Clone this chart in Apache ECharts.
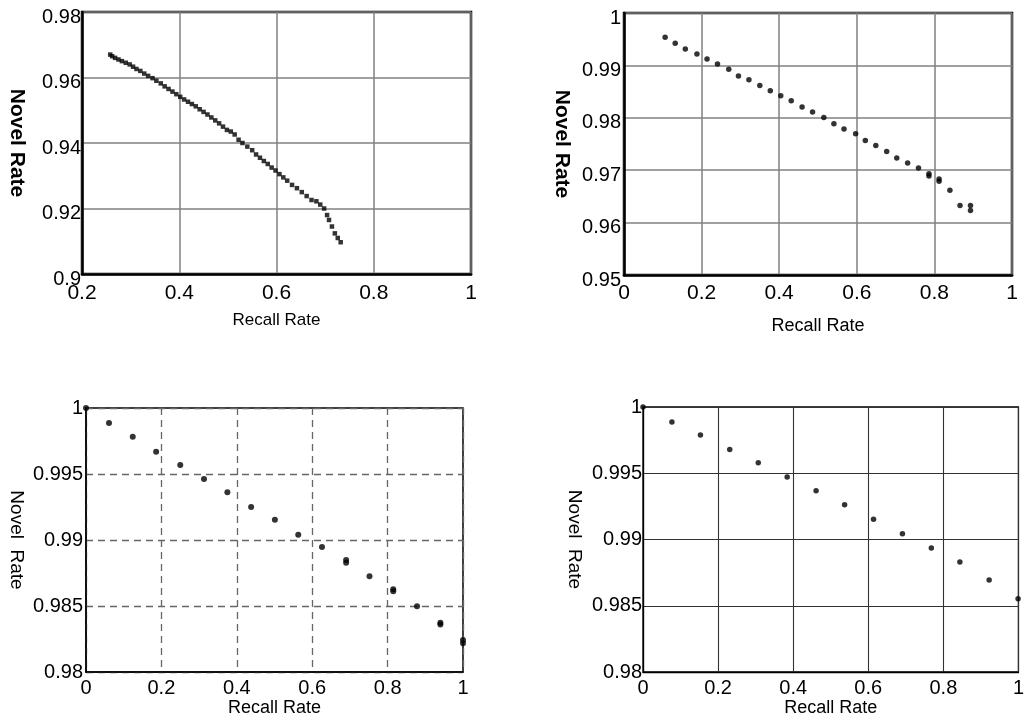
<!DOCTYPE html>
<html>
<head>
<meta charset="utf-8">
<script src="https://cdn.jsdelivr.net/npm/echarts@6/dist/echarts.min.js"></script>
<style>
html,body{margin:0;padding:0;background:#fff;}
#chart{width:1027px;height:724px;}
</style>
</head>
<body>
<div id="chart"></div>
<script>
// Panel 1 (top-left): recall vs novel rate
const p1Recall = [0.258,0.262,0.268,0.275,0.282,0.290,0.298,0.305,0.312,0.320,0.328,0.336,0.345,0.353,0.362,0.370,0.378,0.386,0.394,0.402,0.410,0.418,0.426,0.434,0.442,0.450,0.458,0.466,0.474,0.482,0.490,0.498,0.506,0.514,0.522,0.530,0.540,0.550,0.558,0.566,0.574,0.582,0.590,0.598,0.606,0.614,0.622,0.632,0.642,0.652,0.662,0.672,0.682,0.690,0.698,0.704,0.708,0.714,0.720,0.726,0.732];
const p1Novel  = [0.9670,0.9665,0.9660,0.9655,0.9650,0.9645,0.9640,0.9633,0.9626,0.9620,0.9612,0.9605,0.9598,0.9590,0.9582,0.9573,0.9565,0.9557,0.9549,0.9541,0.9533,0.9526,0.9519,0.9512,0.9503,0.9495,0.9487,0.9478,0.9469,0.9460,0.9450,0.9440,0.9435,0.9426,0.9410,0.9400,0.9389,0.9378,0.9365,0.9355,0.9345,0.9336,0.9325,0.9316,0.9305,0.9295,0.9285,0.9272,0.9262,0.9250,0.9238,0.9226,0.9222,0.9212,0.9200,0.9180,0.9165,0.9145,0.9124,0.9110,0.9097];

// Panel 2 (top-right)
const p2Recall = [0.106,0.132,0.158,0.188,0.214,0.241,0.270,0.295,0.322,0.350,0.377,0.404,0.431,0.459,0.486,0.515,0.541,0.567,0.597,0.622,0.649,0.677,0.703,0.731,0.759,0.786,0.786,0.812,0.812,0.840,0.866,0.893,0.893];
const p2Novel  = [0.99537,0.99423,0.99314,0.99219,0.99124,0.99029,0.98927,0.98800,0.98724,0.98615,0.98514,0.98420,0.98324,0.98204,0.98109,0.98006,0.97886,0.97785,0.97695,0.97568,0.97472,0.97358,0.97232,0.97137,0.97042,0.96930,0.96890,0.96830,0.96790,0.96615,0.96324,0.96324,0.96229];

// Panel 3 (bottom-left)
const p3Recall = [0.0,0.061,0.124,0.186,0.250,0.313,0.375,0.438,0.501,0.563,0.626,0.690,0.690,0.752,0.815,0.815,0.878,0.940,0.940,1.0,1.0];
const p3Novel  = [1.0,0.99886,0.99783,0.99669,0.99568,0.99462,0.99361,0.99250,0.99154,0.99040,0.98947,0.98848,0.98828,0.98725,0.98626,0.98611,0.98498,0.98374,0.98359,0.98242,0.98217];

// Panel 4 (bottom-right)
const p4Recall = [0.0,0.077,0.153,0.231,0.307,0.384,0.461,0.537,0.614,0.691,0.768,0.844,0.922,0.999];
const p4Novel  = [1.0,0.99887,0.99789,0.99680,0.99580,0.99472,0.99368,0.99263,0.99152,0.99044,0.98936,0.98830,0.98694,0.98553];

const xTitle = 'Recall Rate';
const yTitleTop = 'Novel Rate';
const yTitleBottom = 'Novel  Rate';

const FONT = '"Liberation Sans", Arial, sans-serif';
const fmt = v => String(+(+v).toFixed(4));
const zip = (a, b) => a.map((x, i) => [x, b[i]]);

const grids = [
  {left: 82,  top: 12,  width: 389, height: 262},
  {left: 624, top: 13,  width: 388, height: 262},
  {left: 86,  top: 408, width: 377, height: 264},
  {left: 643, top: 407, width: 378, height: 265}
];

const gridStyles = [
  {borderColor: '#000', borderWidth: 2.5},
  {borderColor: '#000', borderWidth: 2.5},
  {borderColor: '#000', borderWidth: 1.5},
  {borderColor: '#000', borderWidth: 1.3}
];

const splitStyles = [
  {color: '#808080', width: 1.5, type: 'solid'},
  {color: '#808080', width: 1.5, type: 'solid'},
  {color: '#666', width: 1.3, type: [7, 5]},
  {color: '#333', width: 1.1, type: 'solid'}
];

const xCfg = [
  {min: 0.2, max: 1, interval: 0.2, labelSize: 21, labelMargin: 9,  nameSize: 17, nameGap: 38},
  {min: 0,   max: 1, interval: 0.2, labelSize: 21, labelMargin: 8,  nameSize: 18, nameGap: 42},
  {min: 0,   max: 1, interval: 0.2, labelSize: 20, labelMargin: 6,  nameSize: 18, nameGap: 27},
  {min: 0,   max: 1, interval: 0.2, labelSize: 20, labelMargin: 6,  nameSize: 18, nameGap: 27}
];
const yCfg = [
  {min: 0.9,  max: 0.98, interval: 0.02,  labelSize: 20, labelMargin: 1, shift: true,  name: yTitleTop,    nameSize: 21, nameGap: 55, bold: 'bold'},
  {min: 0.95, max: 1,    interval: 0.01,  labelSize: 20, labelMargin: 3, shift: true,  name: yTitleTop,    nameSize: 21, nameGap: 52, bold: 'bold'},
  {min: 0.98, max: 1,    interval: 0.005, labelSize: 20, labelMargin: 3, shift: false, name: yTitleBottom, nameSize: 19, nameGap: 60, bold: 'normal'},
  {min: 0.98, max: 1,    interval: 0.005, labelSize: 20, labelMargin: 1, shift: false, name: yTitleBottom, nameSize: 19, nameGap: 59, bold: 'normal'}
];

const axisLineW = [2.5, 2.5, 1.5, 1.3];

const option = {
  backgroundColor: '#fff',
  animation: false,
  grid: grids.map((g, i) => Object.assign({show: true, backgroundColor: 'transparent'}, g, gridStyles[i])),
  xAxis: xCfg.map((c, i) => ({
    type: 'value', gridIndex: i, min: c.min, max: c.max, interval: c.interval,
    name: xTitle, nameLocation: 'middle', nameGap: c.nameGap,
    nameTextStyle: {fontFamily: FONT, fontSize: c.nameSize, color: '#000'},
    axisLine: {show: true, lineStyle: {color: '#000', width: axisLineW[i]}},
    axisTick: {show: false},
    axisLabel: {fontFamily: FONT, fontSize: c.labelSize, color: '#000', margin: c.labelMargin, formatter: fmt, showMinLabel: true, showMaxLabel: true},
    splitLine: {show: true, lineStyle: splitStyles[i]}
  })),
  yAxis: yCfg.map((c, i) => {
    const lbl = {fontFamily: FONT, fontSize: c.labelSize, color: '#000', margin: c.labelMargin, formatter: fmt, showMinLabel: true, showMaxLabel: true};
    if (c.shift) { lbl.verticalAlign = 'top'; lbl.lineHeight = 10; }
    return {
      type: 'value', gridIndex: i, min: c.min, max: c.max, interval: c.interval,
      name: c.name, nameLocation: 'middle', nameGap: c.nameGap, nameRotate: -90,
      nameTextStyle: {fontFamily: FONT, fontSize: c.nameSize, color: '#000', fontWeight: c.bold},
      axisLine: {show: true, lineStyle: {color: '#000', width: axisLineW[i]}},
      axisTick: {show: false},
      axisLabel: lbl,
      splitLine: {show: true, lineStyle: splitStyles[i]}
    };
  }),
  series: [
    {type: 'scatter', xAxisIndex: 0, yAxisIndex: 0, data: zip(p1Recall, p1Novel), symbol: 'rect', symbolSize: 4.5, itemStyle: {color: '#000'}},
    {type: 'scatter', xAxisIndex: 1, yAxisIndex: 1, data: zip(p2Recall, p2Novel), symbol: 'circle', symbolSize: 5.5, itemStyle: {color: '#000'}},
    {type: 'scatter', xAxisIndex: 2, yAxisIndex: 2, data: zip(p3Recall, p3Novel), symbol: 'circle', symbolSize: 6, itemStyle: {color: '#000'}},
    {type: 'scatter', xAxisIndex: 3, yAxisIndex: 3, data: zip(p4Recall, p4Novel), symbol: 'circle', symbolSize: 5.5, itemStyle: {color: '#000'}}
  ]
};

const chart = echarts.init(document.getElementById('chart'), null, {renderer: 'canvas'});
chart.setOption(option);
</script>
</body>
</html>
